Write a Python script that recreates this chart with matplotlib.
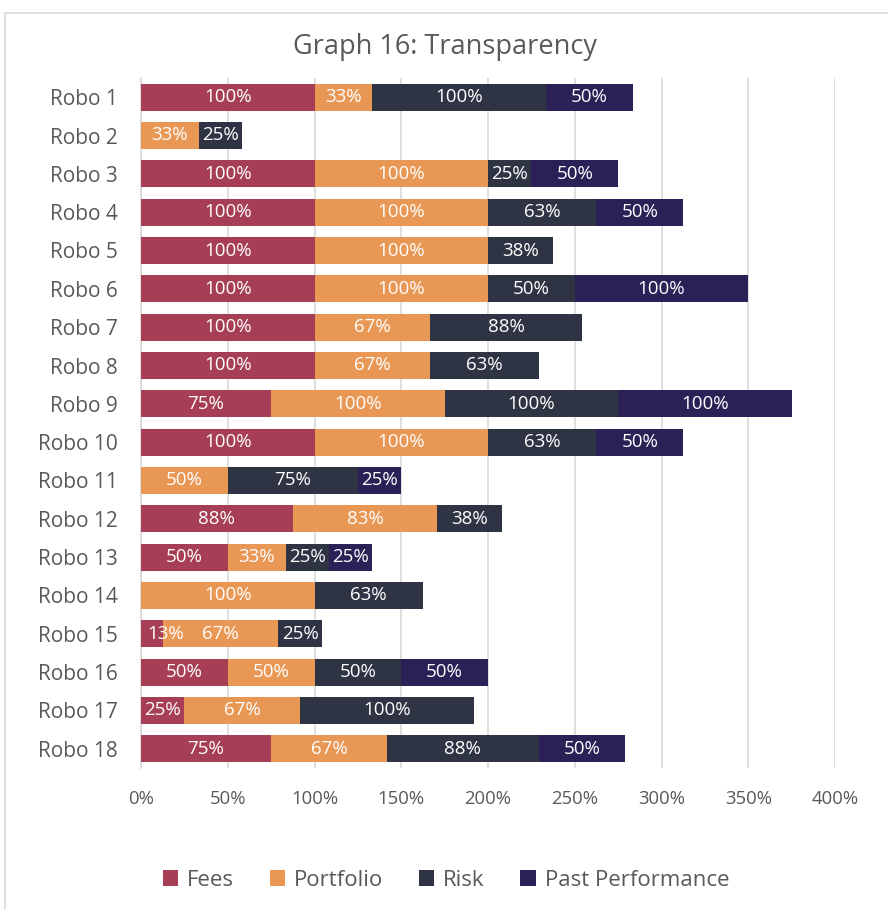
import matplotlib.pyplot as plt
import matplotlib.patches as mpatches
import numpy as np

robos = ["Robo %d" % i for i in range(1, 19)]

# scores in percent (0 = no bar)
fees = [100, 0, 100, 100, 100, 100, 100, 100, 75, 100, 0, 87.5, 50, 0, 12.5, 50, 25, 75]
portfolio = [33.33, 33.33, 100, 100, 100, 100, 66.67, 66.67, 100, 100, 50, 83.33, 33.33, 100, 66.67, 50, 66.67, 66.67]
risk = [100, 25, 25, 62.5, 37.5, 50, 87.5, 62.5, 100, 62.5, 75, 37.5, 25, 62.5, 25, 50, 100, 87.5]
past_perf = [50, 0, 50, 50, 0, 100, 0, 0, 100, 50, 25, 0, 25, 0, 0, 50, 0, 50]

series = ["Fees", "Portfolio", "Risk", "Past Performance"]
colores = ["#A63F55", "#E99755", "#2F3444", "#2B2157"]

plt.rcParams['font.family'] = ['Open Sans', 'DejaVu Sans']

fig = plt.figure(figsize=(8.88, 9.09), dpi=100)
ax = fig.add_axes([141/888, 1 - 768/909, (835 - 141)/888, (768 - 78)/909])

# light border around the chart
fig.patches.append(mpatches.Rectangle((5/888, -0.05), 1.1, 1 - 13/909 + 0.05,
                                      transform=fig.transFigure, fill=False,
                                      edgecolor="#D9D9D9", linewidth=1.2))

y = np.arange(len(robos))
left = np.zeros(len(robos))
for nombre, vals, color in zip(series, [fees, portfolio, risk, past_perf], colores):
    vals = np.array(vals, dtype=float)
    ax.barh(y, vals, left=left, height=0.7, color=color, label=nombre, zorder=3)
    for yi, l, v in zip(y, left, vals):
        if v <= 0:
            continue
        etiqueta = "%d%%" % int(v + 0.5)
        if l == 0 and v < 20:
            # como Excel: la etiqueta no sale por la izquierda del área
            ax.text(3.5, yi, etiqueta, ha="left", va="center",
                    color="white", fontsize=13.5, zorder=4)
        else:
            ax.text(l + v / 2, yi, etiqueta, ha="center", va="center",
                    color="white", fontsize=13.5, zorder=4)
    left += vals

ax.set_xlim(0, 400)
ax.set_ylim(len(robos) - 0.5, -0.5)
ax.set_yticks(y)
ax.set_yticklabels(robos)
ax.set_xticks(np.arange(0, 401, 50))
ax.set_xticklabels(["%d%%" % t for t in range(0, 401, 50)])
ax.tick_params(axis="both", length=0, labelcolor="#595959")
ax.tick_params(axis="x", pad=15.5, labelsize=13.3)
ax.tick_params(axis="y", pad=17, labelsize=15)
ax.grid(axis="x", color="#D9D9D9", linewidth=1.2, zorder=0)
for s in ["top", "right", "bottom"]:
    ax.spines[s].set_visible(False)
ax.spines["left"].set_color("#D9D9D9")
ax.spines["left"].set_linewidth(1.2)

fig.text(445/888, 1 - 47/909, "Graph 16: Transparency", ha="center", va="center",
         fontsize=19.5, color="#595959")

fig.legend(loc="center", bbox_to_anchor=(446/888, 1 - 880/909), ncol=4, frameon=False,
           fontsize=16, labelcolor="#595959", handlelength=0.7, handleheight=0.7,
           columnspacing=1.6, handletextpad=0.4)

fig.savefig("out.png", dpi=100)
